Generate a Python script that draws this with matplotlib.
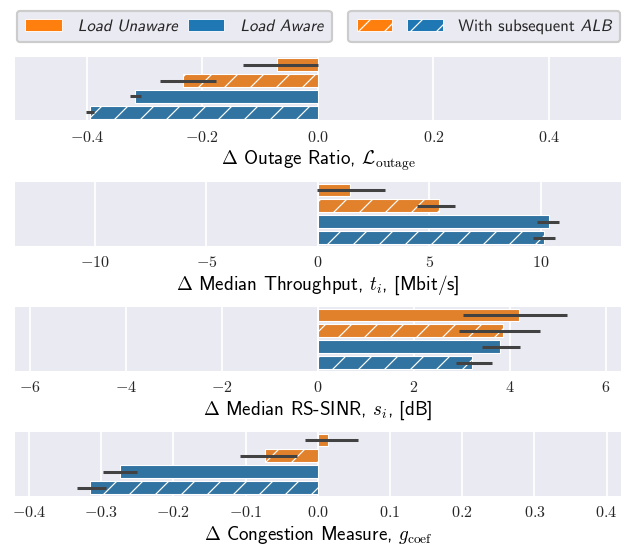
import numpy as np
import matplotlib.pyplot as plt
from matplotlib.patches import Patch
from matplotlib.path import Path
from matplotlib.textpath import TextPath
from matplotlib.font_manager import FontProperties
from matplotlib.patheffects import AbstractPathEffect
from matplotlib.legend_handler import HandlerTuple
from matplotlib.ticker import FixedLocator, FuncFormatter

# bar order top to bottom: unaware, unaware+ALB, aware, aware+ALB
outage = [-0.070, -0.233, -0.316, -0.395]
outage_lo = [-0.129, -0.273, -0.325, -0.402]
outage_hi = [0.000, -0.177, -0.306, -0.387]

thr = [1.43, 5.42, 10.36, 10.13]
thr_lo = [-0.04, 4.43, 9.82, 9.64]
thr_hi = [3.00, 6.17, 10.83, 10.63]

sinr = [4.19, 3.85, 3.79, 3.21]
sinr_lo = [3.02, 2.93, 3.41, 2.87]
sinr_hi = [5.19, 4.63, 4.21, 3.62]

cong = [0.014, -0.073, -0.274, -0.315]
cong_lo = [-0.018, -0.108, -0.298, -0.333]
cong_hi = [0.056, -0.029, -0.251, -0.293]

labels = [r'$\Delta$ Outage Ratio, $\mathcal{L}_{\mathrm{outage}}$',
          r'$\Delta$ Median Throughput, $t_i$, [Mbit/s]',
          r'$\Delta$ Median RS-SINR, $s_i$, [dB]',
          r'$\Delta$ Congestion Measure, $g_{\mathrm{coef}}$']
ticks = [[-0.4, -0.2, 0.0, 0.2, 0.4],
         [-10, -5, 0, 5, 10],
         [-6, -4, -2, 0, 2, 4, 6],
         [-0.4, -0.3, -0.2, -0.1, 0.0, 0.1, 0.2, 0.3, 0.4]]
fmts = ['{:.1f}', '{:.0f}', '{:.0f}', '{:.1f}']
xlims = [0.525, 13.6, 6.31, 0.42]

ORANGE, BLUE = '#e1812c', '#3274a1'
bar_colors = [ORANGE, ORANGE, BLUE, BLUE]
bar_hatch = ['', '//', '', '//']

DPI = 156
plt.rcParams.update({
    'font.family': 'cmss10',
    'mathtext.fontset': 'cm',
    'axes.unicode_minus': False,
    'hatch.linewidth': 0.55,
    'axes.facecolor': '#eaeaf2',
    'axes.edgecolor': 'white',
    'grid.color': 'white',
    'grid.linewidth': 0.8,
    'text.color': '.15',
    'xtick.color': '.15',
})


class Slant(AbstractPathEffect):
    """Fake an oblique face by shearing glyph outlines right of `start`."""
    def __init__(self, start=0.0, k=0.21):
        super().__init__()
        self.start, self.k = start, k

    def draw_path(self, renderer, gc, tpath, affine, rgbFace=None):
        v = tpath.vertices.copy()
        m = v[:, 0] >= self.start
        v[m, 0] += self.k * v[m, 1]
        renderer.draw_path(gc, Path(v, tpath.codes), affine, rgbFace)


fig = plt.figure(figsize=(632 / DPI, 547 / DPI), dpi=DPI)

W, H = 632, 547
left, right = 14.7, 621
tops = [56.7, 182, 307, 432]
ax_h = 63.5

series = [(outage, outage_lo, outage_hi), (thr, thr_lo, thr_hi),
          (sinr, sinr_lo, sinr_hi), (cong, cong_lo, cong_hi)]

for k, (vals, lo, hi) in enumerate(series):
    ax = fig.add_axes([left / W, 1 - (tops[k] + ax_h) / H,
                       (right - left) / W, ax_h / H])
    ax.set_axisbelow(True)
    ax.grid(axis='x')
    y = np.arange(len(vals))
    for i in y:
        ax.barh(i, vals[i], height=0.8, color=bar_colors[i],
                edgecolor='white', linewidth=0.5, hatch=bar_hatch[i])
    ax.hlines(y, lo, hi, color='#424242', lw=1.4, zorder=3)
    ax.set_ylim(3.5, -0.5)
    ax.set_yticks([])
    ax.set_xlim(-xlims[k], xlims[k])
    ax.xaxis.set_major_locator(FixedLocator(ticks[k]))
    ax.xaxis.set_major_formatter(
        FuncFormatter(lambda x, p, f=fmts[k]: '$' + f.format(x) + '$'))
    ax.tick_params(axis='x', length=0, pad=4.6, labelsize=7.4)
    for s in ax.spines.values():
        s.set_visible(False)
    ax.set_xlabel(labels[k], fontsize=8.8, labelpad=1.5)

# legends
leg_kw = dict(fontsize=7.7, frameon=True, facecolor='#eaeaf2',
              edgecolor='#cccccc', framealpha=1, borderaxespad=0,
              handleheight=0.7, borderpad=0.5)
h1 = [Patch(facecolor='#ff7f0e', edgecolor='white', linewidth=0.4),
      Patch(facecolor='#1f77b4', edgecolor='white', linewidth=0.4)]
leg1 = fig.legend(h1, ['Load Unaware', 'Load Aware'], ncol=2,
                  loc='upper left', bbox_to_anchor=(16.7 / W, 1 - 10.7 / H),
                  handlelength=2.2, handletextpad=0.95, columnspacing=0.6,
                  **leg_kw)
for t in leg1.get_texts():
    t.set_path_effects([Slant()])

h2 = (Patch(facecolor='#ff7f0e', edgecolor='white', linewidth=0.4, hatch='//'),
      Patch(facecolor='#1f77b4', edgecolor='white', linewidth=0.4, hatch='//'))
leg2 = fig.legend([h2], ['With subsequent ALB'],
                  handler_map={tuple: HandlerTuple(ndivide=None, pad=0.9)},
                  loc='upper right', bbox_to_anchor=(620 / W, 1 - 10.7 / H),
                  handlelength=5.2, handletextpad=0.9, **leg_kw)
x0 = TextPath((0, 0), 'With subsequent', size=100,
              prop=FontProperties(family='cmss10')).get_extents().x1 + 10
leg2.get_texts()[0].set_path_effects([Slant(start=x0)])

fig.savefig('out.png', dpi=DPI)
